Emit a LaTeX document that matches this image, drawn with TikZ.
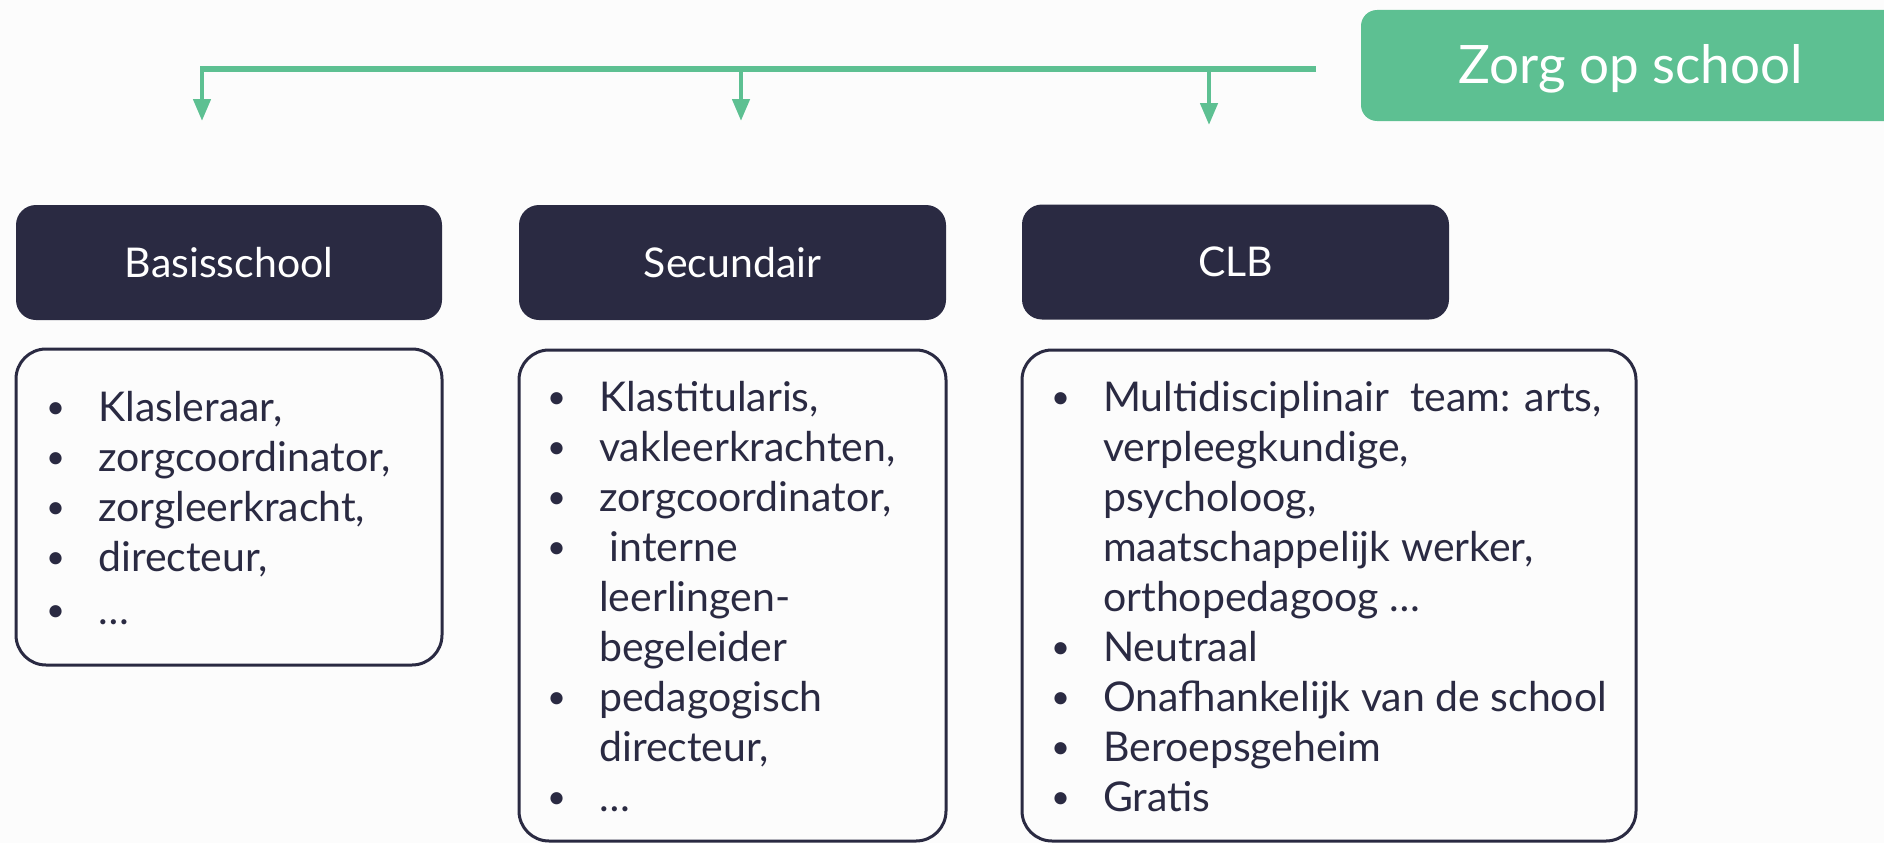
\documentclass[tikz,border=0pt]{standalone}
\usepackage{fontspec}
\setmainfont{Lato}
\usetikzlibrary{arrows.meta}
\definecolor{navy}{RGB}{42,42,66}
\definecolor{zgreen}{RGB}{93,192,146}
\definecolor{pagebg}{RGB}{252,252,252}
\newcommand\itm[1]{\makebox[52pt][l]{\raisebox{2.3pt}{\scalebox{0.8}{•}}}#1}
\newcommand\cnt[1]{\hspace*{52pt}#1}
\begin{document}
\begin{tikzpicture}[x=1pt,y=-1pt,
  header/.style={fill=navy, rounded corners=20pt, minimum height=115pt, inner sep=0pt},
  headtext/.style={text=white, anchor=base, inner sep=0pt, font=\fontsize{41}{50}\selectfont},
  listbox/.style={draw=navy, line width=3pt, fill=pagebg, rounded corners=30pt, inner sep=0pt},
  listtext/.style={anchor=base west, inner sep=0pt, text=navy},
  hline/.style={draw=zgreen, line width=6pt},
  varrow/.style={draw=zgreen, line width=4.5pt, -{Triangle[length=22pt,width=17pt]}},
]
\useasboundingbox (0,0) rectangle (1884,843);
\fill[pagebg] (0,0) rectangle (1884,843);

% title
\fill[zgreen] (1884,121) -- (1884,10) [rounded corners=16pt] -- (1361,10) -- (1361,121) [sharp corners] -- (1884,121) -- cycle;
\node[text=white, anchor=base, inner sep=0pt, font=\fontsize{53}{60}\selectfont] (title) at (1631,84) {Zorg op school};

% connectors
\coordinate (hs) at (1316,69);
\coordinate (j1) at (202,69);
\coordinate (j2) at (741,69);
\coordinate (j3) at (1209,69);
\coordinate (t1) at (202,121);
\coordinate (t2) at (741,121);
\coordinate (t3) at (1209,125);
\draw[hline] (hs) -- ([xshift=-2pt]j1);
\draw[varrow] ([yshift=-3pt]j1) -- (t1);
\draw[varrow] (j2) -- (t2);
\draw[varrow] (j3) -- (t3);

% headers
\node[header, minimum width=426pt] (h1) at (229,262.5) {};
\node[header, minimum width=427pt] (h2) at (732.5,262.5) {};
\node[header, minimum width=427pt] (h3) at (1235.5,262) {};
\node[headtext] (h1t) at (229,277) {Basisschool};
\node[headtext] (h2t) at (732.5,277) {Secundair};
\node[headtext] (h3t) at (1235.5,276) {CLB};

% list boxes
\node[listbox, minimum width=426pt, minimum height=316pt] (b1) at (229,507) {};
\node[listbox, minimum width=427pt, minimum height=491pt] (b2) at (732.5,595.5) {};
\node[listbox, minimum width=614pt, minimum height=491pt] (b3) at (1329,595.5) {};

\node[listtext] (l1) at (46,421) {\parbox[t]{390pt}{\fontsize{41}{50}\selectfont
\itm{Klasleraar,}\\
\itm{zorgcoordinator,}\\
\itm{zorgleerkracht,}\\
\itm{directeur,}\\[3pt]
\itm{…}}};

\node[listtext] (l2) at (547,411) {\parbox[t]{390pt}{\fontsize{41}{50}\selectfont
\itm{Klastitularis,}\\
\itm{vakleerkrachten,}\\
\itm{zorgcoordinator,}\\
\itm{\ interne}\\
\cnt{leerlingen-}\\
\cnt{begeleider}\\
\itm{pedagogisch}\\
\cnt{directeur,}\\
\itm{…}}};

\node[listtext] (l3) at (1051,411) {\parbox[t]{570pt}{\fontsize{41}{50}\selectfont
\itm{Multidisciplinair\ \ team: arts,}\\
\cnt{verpleegkundige,}\\
\cnt{psycholoog,}\\
\cnt{maatschappelijk werker,}\\
\cnt{orthopedagoog …}\\
\itm{Neutraal}\\
\itm{Onafhankelijk van de school}\\
\itm{Beroepsgeheim}\\
\itm{Gratis}}};
\end{tikzpicture}
\end{document}
